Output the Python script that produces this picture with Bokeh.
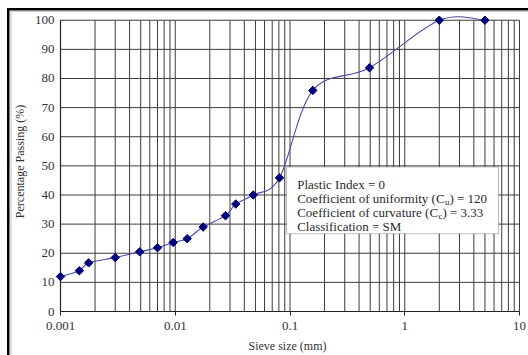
import math
from bokeh.plotting import figure
from bokeh.models import FixedTicker, BoxAnnotation, Label, Range1d
from bokeh.embed import file_html
from bokeh.resources import INLINE

# ---------------- data ----------------
sieve_size_mm = [0.001, 0.00146, 0.00176, 0.0030, 0.0049, 0.0070, 0.0096, 0.0127,
                 0.0175, 0.0274, 0.0337, 0.0478, 0.081, 0.158, 0.493, 2.0, 5.0]
percent_passing = [12.0, 14.0, 16.7, 18.5, 20.5, 21.9, 23.7, 25.0,
                   29.0, 32.9, 36.9, 40.0, 45.9, 75.9, 83.7, 100.0, 100.0]
x_major_ticks = [0.001, 0.01, 0.1, 1, 10]
x_tick_labels = ["0.001", "0.01", "0.1", "1", "10"]
x_minor_multipliers = [2, 3, 4, 5, 6, 7, 8, 9]
y_ticks = [0, 10, 20, 30, 40, 50, 60, 70, 80, 90, 100]
x_title = "Sieve size (mm)"
y_title = "Percentage Passing (%)"
info_line1 = "Plastic Index = 0"
info_line2 = ["Coefficient of uniformity (C", "u", ") = 120"]
info_line3 = ["Coefficient of curvature (C", "c", ") = 3.33"]
info_line4 = "Classification = SM"

# ---------------- layout constants ----------------
W, H = 528, 355
X0_PX, DEC_PX = 60, 114.75          # pixel of 0.001, pixels per decade
Y0_PX = 312                          # pixel of 0 %
TOP_PX = 11
Y_END = 103.0
UNIT_PX = (Y0_PX - TOP_PX) / Y_END

def px_to_x(px):
    return 10 ** ((px - X0_PX) / DEC_PX - 3)

def px_to_y(py):
    return (Y0_PX - py) / UNIT_PX

FONT = "Liberation Serif"
TXT = "#333333"
GRID = "#3c3c3c"

x_minor_ticks = [m * d for d in x_major_ticks[:-1] for m in x_minor_multipliers]

p = figure(width=W, height=H, x_axis_type="log",
           x_range=Range1d(px_to_x(54), px_to_x(520)),
           y_range=Range1d(0, Y_END),
           output_backend="svg", toolbar_location=None,
           min_border_left=54, min_border_right=8,
           min_border_top=TOP_PX, min_border_bottom=H - Y0_PX)
p.outline_line_color = None
p.border_fill_alpha = 0
p.background_fill_alpha = 0
p.xgrid.visible = False
p.ygrid.visible = False
# Excel-like outer chart frame (left/top edges visible in the picture)
p.styles = {
    "background-color": "white",
    "box-shadow": ("inset 7px 8px 0 0 white, inset 9.5px 10.5px 0 0 black, "
                   "inset 10.5px 11px 0 0 white, inset 11.5px 11.8px 0 0 #c0c0c0"),
}

# grid lines (drawn from tick arrays, limited to the 0-100 / 0.001-10 box)
vx = x_major_ticks + x_minor_ticks
p.segment(x0=vx, y0=[y_ticks[0]] * len(vx), x1=vx, y1=[y_ticks[-1]] * len(vx),
          line_color=GRID, line_width=1, level="underlay")
p.segment(x0=[x_major_ticks[0]] * len(y_ticks), y0=y_ticks,
          x1=[x_major_ticks[-1]] * len(y_ticks), y1=y_ticks,
          line_color=GRID, line_width=1, level="underlay")
# y axis line at 0.001
p.segment(x0=[x_major_ticks[0]], y0=[y_ticks[0]], x1=[x_major_ticks[0]], y1=[y_ticks[-1]],
          line_color="#222222", line_width=1.2, level="underlay")

# axes
xa = p.xaxis[0]
xa.ticker = FixedTicker(ticks=x_major_ticks, minor_ticks=[])
xa.major_label_overrides = dict(zip(x_major_ticks, x_tick_labels))
xa.bounds = (x_major_ticks[0], x_major_ticks[-1])
xa.axis_line_color = "#222222"
xa.axis_line_width = 1.2
xa.major_tick_line_color = "#222222"
xa.major_tick_out = 4
xa.major_tick_in = 0
xa.minor_tick_line_color = None
xa.major_label_standoff = 6
xa.major_label_text_font = FONT
xa.major_label_text_font_size = "13px"
xa.major_label_text_color = TXT
xa.axis_label = x_title
xa.axis_label_text_font = FONT
xa.axis_label_text_font_size = "12px"
xa.axis_label_text_font_style = "normal"
xa.axis_label_text_color = TXT
xa.axis_label_standoff = 6

ya = p.yaxis[0]
ya.ticker = FixedTicker(ticks=y_ticks, minor_ticks=[])
ya.axis_line_color = None
ya.major_tick_line_color = None
ya.major_tick_out = 0
ya.major_tick_in = 0
ya.minor_tick_line_color = None
ya.major_label_standoff = 0
ya.major_label_text_font = FONT
ya.major_label_text_font_size = "13px"
ya.major_label_text_color = TXT
ya.axis_label = y_title
ya.axis_label_text_font = FONT
ya.axis_label_text_font_size = "12px"
ya.axis_label_text_font_style = "normal"
ya.axis_label_text_color = TXT
ya.axis_label_standoff = 5

# smoothed curve (Excel-like bezier smoothing in log-x space)
lx = [math.log10(v) for v in sieve_size_mm]
n = len(lx)

def pt(i):
    i = max(0, min(n - 1, i))
    return lx[i], percent_passing[i]

bx0, by0, bx1, by1, bcx0, bcy0, bcx1, bcy1 = ([] for _ in range(8))
for i in range(n - 1):
    xa0, ya0 = pt(i)
    xa1, ya1 = pt(i + 1)
    xm, ym = pt(i - 1)
    xp, yp = pt(i + 2)
    bx0.append(10 ** xa0); by0.append(ya0)
    bx1.append(10 ** xa1); by1.append(ya1)
    bcx0.append(10 ** (xa0 + (xa1 - xm) / 6)); bcy0.append(ya0 + (ya1 - ym) / 6)
    bcx1.append(10 ** (xa1 - (xp - xa0) / 6)); bcy1.append(ya1 - (yp - ya0) / 6)

p.bezier(x0=bx0, y0=by0, x1=bx1, y1=by1, cx0=bcx0, cy0=bcy0, cx1=bcx1, cy1=bcy1,
         line_color="#4a4aae", line_width=1.1)
p.scatter(sieve_size_mm, percent_passing, marker="square", size=6, angle=math.pi / 4,
          fill_color="#00007a", line_color="#00007a", line_width=1)

# info box
BOX_L, BOX_R, BOX_T, BOX_B = 286, 498, 167, 234
p.add_layout(BoxAnnotation(left=px_to_x(BOX_L), right=px_to_x(BOX_R),
                           top=px_to_y(BOX_T), bottom=px_to_y(BOX_B),
                           fill_color="white", fill_alpha=1.0,
                           line_color="#333333", line_width=1.2))

TX = 296.7
base = [184.5, 198.7, 212.9, 227.1]
FS = 13
SUB = 9

def add_text(px, py, text, size=FS):
    p.add_layout(Label(x=px_to_x(px), y=px_to_y(py), text=text,
                       text_font=FONT, text_font_size=f"{size}px",
                       text_color="#2a2a2a", text_baseline="alphabetic",
                       text_align="left"))

add_text(TX, base[0], info_line1)
w2a = 147.7
add_text(TX, base[1], info_line2[0])
add_text(TX + w2a, base[1] + 3, info_line2[1], SUB)
add_text(TX + w2a + 4.5, base[1], info_line2[2])
w3a = 141.2
add_text(TX, base[2], info_line3[0])
add_text(TX + w3a, base[2] + 3, info_line3[1], SUB)
add_text(TX + w3a + 4.0, base[2], info_line3[2])
add_text(TX, base[3], info_line4)

open("out.html", "w").write(file_html(p, INLINE))
